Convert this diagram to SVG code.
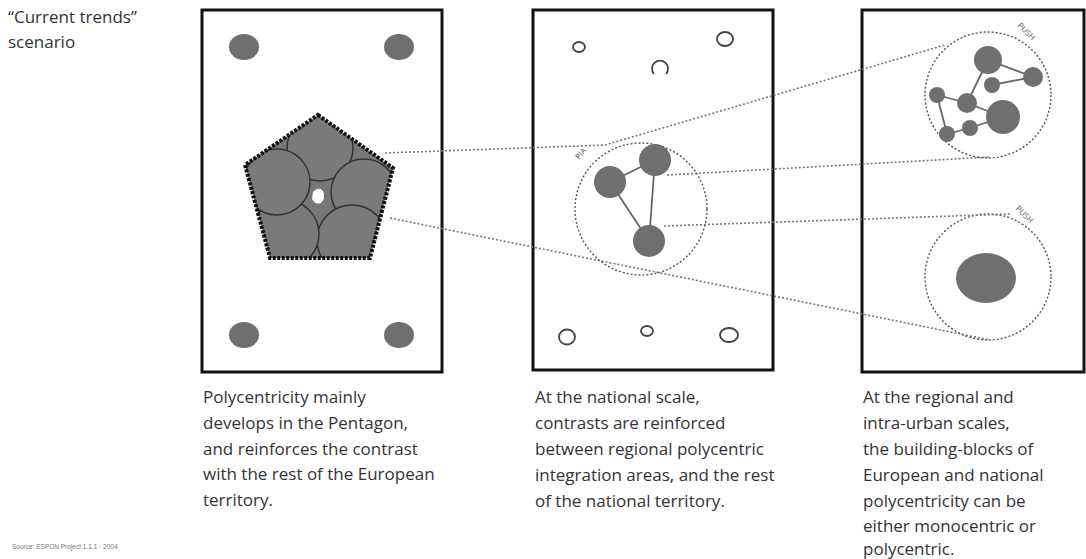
<svg xmlns="http://www.w3.org/2000/svg" width="1086" height="559" viewBox="0 0 1086 559">
<style>
.frame{fill:none;stroke:#111;stroke-width:3}
.txt{font-family:"Open Sans","Noto Sans",sans-serif;font-size:17px;fill:#333}
.dot{fill:#6f6f6f}
.ring{fill:none;stroke:#444;stroke-width:1.8}
.conn{fill:none;stroke:#777;stroke-width:1.6;stroke-dasharray:2 2}
.dring{fill:none;stroke:#555;stroke-width:1.4;stroke-dasharray:2 2}
.link{stroke:#666;stroke-width:1.8}
.lbl{font-family:"Open Sans","Noto Sans",sans-serif;font-size:8px;fill:#555}
</style>
<defs>
<clipPath id="pent"><polygon points="318,115 393,168 370,258 270,258 245,165"/></clipPath>
</defs>
<rect width="1086" height="559" fill="#fff"/>
<g id="title">
<text class="txt" x="8" y="23">“Current trends”</text>
<text class="txt" x="8" y="48">scenario</text>
</g>
<g id="panel1">
<rect class="frame" x="202" y="10" width="240" height="362"/>
<ellipse class="dot" cx="244" cy="47" rx="15" ry="13"/>
<ellipse class="dot" cx="399" cy="47" rx="15" ry="13"/>
<ellipse class="dot" cx="244" cy="335" rx="15" ry="13"/>
<ellipse class="dot" cx="399" cy="335" rx="15" ry="13"/>
<g id="pentagon">
<polygon points="318,115 393,168 370,258 270,258 245,165" fill="#777"/>
<g clip-path="url(#pent)" fill="#7a7a7a" stroke="#333" stroke-width="1.5">
<circle cx="320" cy="148" r="33"/>
<circle cx="364" cy="192" r="33"/>
<circle cx="352" cy="240" r="35"/>
<circle cx="285" cy="234" r="34"/>
<circle cx="277" cy="182" r="33"/>
</g>
<path d="M313,192 Q318,186 323,191 Q326,198 321,203 Q315,205 312,199 Z" fill="#fff"/>
<polygon points="318,115 393,168 370,258 270,258 245,165" fill="none" stroke="#111" stroke-width="4" stroke-dasharray="3 1.5"/>
</g>
</g>
<g id="panel2">
<rect class="frame" x="533" y="10" width="240" height="360"/>
<ellipse class="ring" cx="579" cy="47" rx="6" ry="5"/>
<path class="ring" d="M654,74 A8,8 0 1 1 666,74"/>
<ellipse class="ring" cx="725" cy="39" rx="8" ry="7"/>
<ellipse class="ring" cx="567" cy="337" rx="8" ry="7.5"/>
<ellipse class="ring" cx="647" cy="331" rx="6" ry="5"/>
<ellipse class="ring" cx="729" cy="335" rx="9" ry="7"/>
<g id="pia">
<circle class="dring" cx="641" cy="209" r="66"/>
<line class="link" x1="610" y1="182" x2="655" y2="160"/>
<line class="link" x1="610" y1="182" x2="649" y2="241"/>
<line class="link" x1="655" y1="160" x2="649" y2="241"/>
<circle class="dot" cx="610" cy="182" r="16"/>
<circle class="dot" cx="655" cy="160" r="16"/>
<circle class="dot" cx="649" cy="241" r="16"/>
<text class="lbl" x="0" y="0" transform="translate(579,160) rotate(-50)">PIA</text>
</g>
</g>
<g id="panel3">
<rect class="frame" x="862" y="10" width="222" height="362"/>
<g id="push-poly">
<circle class="dring" cx="988" cy="95" r="63"/>
<g class="link">
<line x1="988" y1="60" x2="1033" y2="77"/>
<line x1="988" y1="60" x2="967" y2="103"/>
<line x1="992" y1="85" x2="1033" y2="77"/>
<line x1="967" y1="103" x2="937" y2="95"/>
<line x1="937" y1="95" x2="947" y2="134"/>
<line x1="947" y1="134" x2="970" y2="128"/>
<line x1="970" y1="128" x2="1003" y2="117"/>
<line x1="967" y1="103" x2="1003" y2="117"/>
</g>
<circle class="dot" cx="988" cy="60" r="14"/>
<circle class="dot" cx="1033" cy="77" r="10"/>
<circle class="dot" cx="992" cy="85" r="8"/>
<circle class="dot" cx="967" cy="103" r="10"/>
<circle class="dot" cx="937" cy="95" r="8"/>
<circle class="dot" cx="1003" cy="117" r="17"/>
<circle class="dot" cx="970" cy="128" r="8"/>
<circle class="dot" cx="947" cy="134" r="8"/>
<text class="lbl" x="0" y="0" transform="translate(1017,26) rotate(45)">PUSH</text>
</g>
<g id="push-mono">
<circle class="dring" cx="988" cy="277" r="63"/>
<ellipse class="dot" cx="986" cy="278" rx="30" ry="25"/>
<text class="lbl" x="0" y="0" transform="translate(1015,209) rotate(45)">PUSH</text>
</g>
</g>
<g id="connectors">
<polyline class="conn" points="385,153 605,145 945,45"/>
<line class="conn" x1="667" y1="175" x2="990" y2="157"/>
<line class="conn" x1="664" y1="226" x2="1010" y2="214"/>
<line class="conn" x1="390" y1="218" x2="990" y2="340"/>
</g>
<g id="captions">
<text class="txt" x="203" y="403">Polycentricity mainly</text>
<text class="txt" x="203" y="429">develops in the Pentagon,</text>
<text class="txt" x="203" y="455">and reinforces the contrast</text>
<text class="txt" x="203" y="480">with the rest of the European</text>
<text class="txt" x="203" y="506">territory.</text>
<text class="txt" x="535" y="403">At the national scale,</text>
<text class="txt" x="535" y="429">contrasts are reinforced</text>
<text class="txt" x="535" y="455">between regional polycentric</text>
<text class="txt" x="535" y="481">integration areas, and the rest</text>
<text class="txt" x="535" y="507">of the national territory.</text>
<text class="txt" x="863" y="403">At the regional and</text>
<text class="txt" x="863" y="429">intra-urban scales,</text>
<text class="txt" x="863" y="455">the building-blocks of</text>
<text class="txt" x="863" y="481">European and national</text>
<text class="txt" x="863" y="507">polycentricity can be</text>
<text class="txt" x="863" y="532">either monocentric or</text>
<text class="txt" x="863" y="555">polycentric.</text>
</g>
<g id="footer">
<text x="12" y="549" font-family="'Liberation Sans',sans-serif" font-size="6.5" fill="#777">Source: ESPON Project 1.1.1 · 2004</text>
</g>
</svg>
